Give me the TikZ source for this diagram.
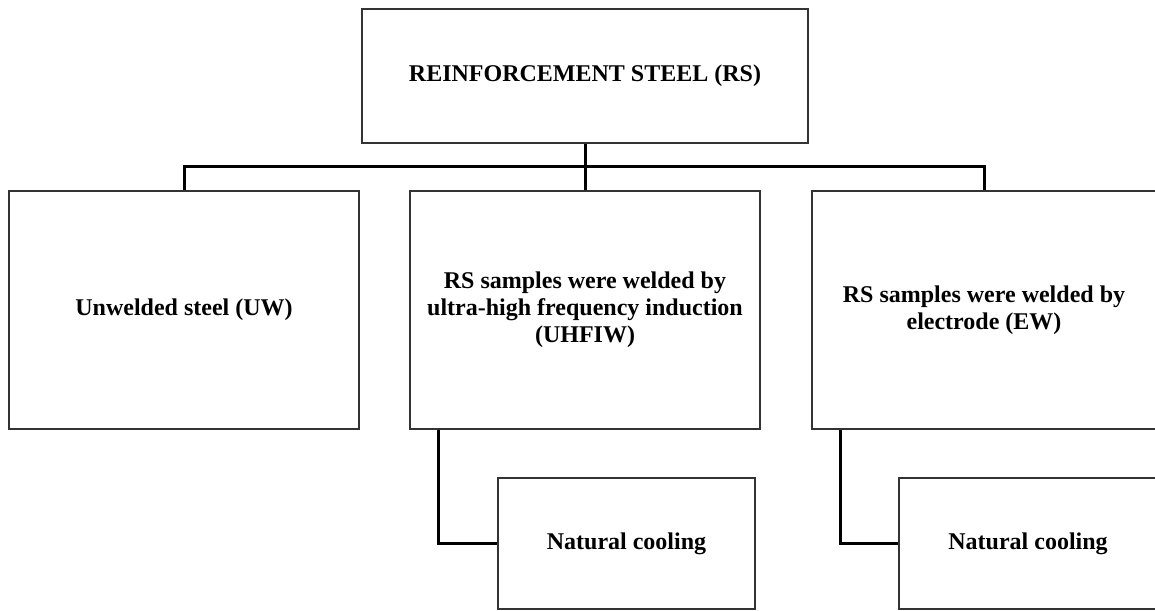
\documentclass[tikz,border=0pt]{standalone}
\usepackage{fontspec}
\setmainfont{Liberation Serif}
\usepackage{tikz}
\usetikzlibrary{calc}

\begin{document}
\begin{tikzpicture}[x=1pt, y=-1pt,
		box/.style={draw=black!80, line width=1.5pt, align=center, inner sep=0pt,
			font=\bfseries\fontsize{24}{27}\selectfont},
		bar/.style={black, line width=3pt}]
		\useasboundingbox (0, 0) rectangle (1155, 610);
		\node [box, minimum width=446, minimum height=134] (rs) at (585, 76) {REINFORCEMENT STEEL (RS)};
		\node [box, minimum width=350, minimum height=238] (uw) at (184, 310) {Unwelded steel (UW)};
		\node [box, minimum width=350, minimum height=238] (uhf) at (585, 310) {RS samples were welded by\\ultra-high frequency induction\\(UHFIW)};
		\node [box, minimum width=344, minimum height=238] (ew) at (984, 310) {RS samples were welded by\\electrode (EW)};
		\node [box, minimum width=257, minimum height=131] (nc1) at (626.5, 543.5) {Natural cooling};
		\node [box, minimum width=258, minimum height=131] (nc2) at (1028, 543.5) {Natural cooling};
		\coordinate (hub) at (585, 166);
		\draw [bar] (rs.south) -- (hub);
		\draw [bar] (uw.north) |- (hub) -| (ew.north);
		\draw [bar] (hub) -- (uhf.north);
		\draw [bar] ([xshift=29pt]uhf.south west) |- (nc1.west);
		\draw [bar] ([xshift=29pt]ew.south west) |- (nc2.west);
	\end{tikzpicture}
\end{document}
